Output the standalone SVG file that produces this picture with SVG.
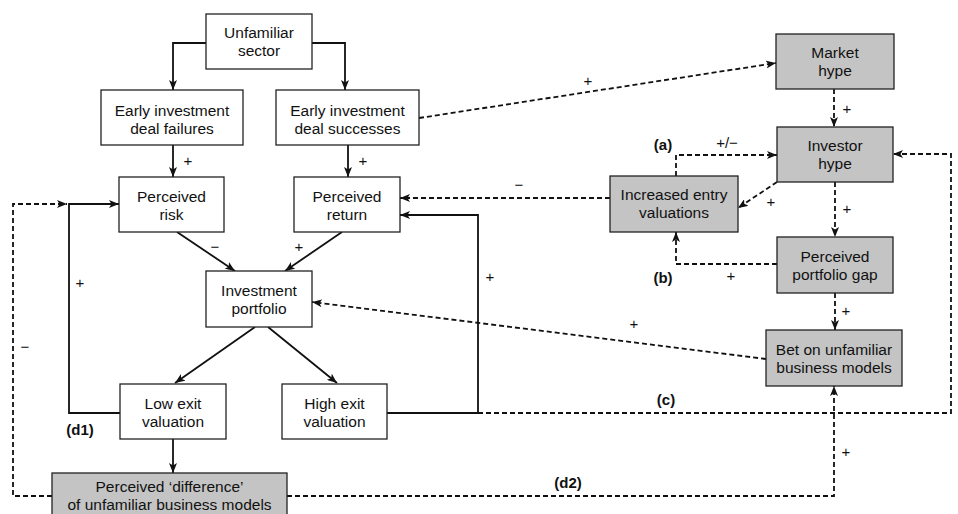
<svg xmlns="http://www.w3.org/2000/svg" width="958" height="514" viewBox="0 0 958 514">
<defs>
<marker id="ah" viewBox="0 0 10 8" markerWidth="10" markerHeight="8" refX="10" refY="4" orient="auto" markerUnits="userSpaceOnUse">
<path d="M0,0 L10,4 L0,8 L2.5,4 z" fill="#111"/>
</marker>
<style>
.bx{fill:#fff;stroke:#222;stroke-width:1.3}
.gb{fill:#c4c4c4;stroke:#222;stroke-width:1.3}
.t{font-family:"Liberation Sans",Arial,sans-serif;font-size:15.5px;fill:#111;text-anchor:middle}
.l{font-family:"Liberation Sans",Arial,sans-serif;font-size:15px;fill:#111;text-anchor:middle}
.b{font-family:"Liberation Sans",Arial,sans-serif;font-size:15px;font-weight:bold;fill:#111;text-anchor:middle}
.s{fill:none;stroke:#111;stroke-width:1.8}
.d{fill:none;stroke:#111;stroke-width:1.8;stroke-dasharray:5,3}
.a{marker-end:url(#ah)}
</style>
</defs>
<rect width="958" height="514" fill="#fff"/>
<g id="connectors">
<path class="s a" d="M206,43 H173 V90"/>
<path class="s a" d="M312,43 H345 V90"/>
<path class="s a" d="M173,145 V177"/>
<path class="s a" d="M348,145 V177"/>
<path class="s a" d="M177,232 L235,271"/>
<path class="s a" d="M342,232 L285,271"/>
<path class="s a" d="M255,327 L175,383"/>
<path class="s a" d="M268,327 L337,383"/>
<path class="s a" d="M120,413 H69 V204 H119"/>
<path class="s a" d="M387,413 H478 V215 H400"/>
<path class="s a" d="M173,439 V473"/>
<path class="d a" d="M52,496 H13 V204 H67"/>
<path class="d a" d="M287,496 H834 V386"/>
<path class="d a" d="M478,413 H951 V154 H893"/>
<path class="d a" d="M419,118 L776,63"/>
<path class="d a" d="M834,89 V127"/>
<path class="d a" d="M777,182 L738,208"/>
<path class="d a" d="M676,176 V155 H777"/>
<path class="d a" d="M610,198 H400"/>
<path class="d a" d="M835,182 V237"/>
<path class="d a" d="M777,264 H676 V232"/>
<path class="d a" d="M835,293 V330"/>
<path class="d a" d="M766,359 L312,302"/>
</g>
<g id="labels">
<text class="l" x="188" y="166">+</text>
<text class="l" x="363" y="166">+</text>
<text class="l" x="215" y="252">−</text>
<text class="l" x="299" y="252">+</text>
<text class="l" x="80" y="288">+</text>
<text class="b" x="80" y="435">(d1)</text>
<text class="l" x="490" y="282">+</text>
<text class="l" x="25" y="352">−</text>
<text class="l" x="846" y="457">+</text>
<text class="b" x="568" y="488">(d2)</text>
<text class="b" x="666" y="405">(c)</text>
<text class="l" x="588" y="86">+</text>
<text class="l" x="847" y="114">+</text>
<text class="l" x="771" y="207">+</text>
<text class="b" x="663" y="150">(a)</text>
<text class="l" x="727" y="148">+/−</text>
<text class="l" x="519" y="190">−</text>
<text class="l" x="847" y="214">+</text>
<text class="b" x="663" y="283">(b)</text>
<text class="l" x="731" y="281">+</text>
<text class="l" x="846" y="316">+</text>
<text class="l" x="634" y="329">+</text>
</g>
<g id="unfamiliar-sector"><rect class="bx" x="206" y="14" width="106" height="55"/><text class="t" x="259" y="38">Unfamiliar</text><text class="t" x="259" y="56">sector</text></g>
<g id="deal-failures"><rect class="bx" x="101" y="90" width="142" height="55"/><text class="t" x="172" y="116">Early investment</text><text class="t" x="172" y="134">deal failures</text></g>
<g id="deal-successes"><rect class="bx" x="276" y="90" width="143" height="55"/><text class="t" x="347.5" y="116">Early investment</text><text class="t" x="347.5" y="134">deal successes</text></g>
<g id="perceived-risk"><rect class="bx" x="119" y="177" width="105" height="55"/><text class="t" x="171.5" y="202">Perceived</text><text class="t" x="171.5" y="220">risk</text></g>
<g id="perceived-return"><rect class="bx" x="294" y="177" width="106" height="55"/><text class="t" x="347" y="202">Perceived</text><text class="t" x="347" y="220">return</text></g>
<g id="investment-portfolio"><rect class="bx" x="206" y="271" width="106" height="56"/><text class="t" x="259" y="296">Investment</text><text class="t" x="259" y="314">portfolio</text></g>
<g id="low-exit"><rect class="bx" x="120" y="384" width="106" height="55"/><text class="t" x="173" y="409">Low exit</text><text class="t" x="173" y="427">valuation</text></g>
<g id="high-exit"><rect class="bx" x="282" y="384" width="105" height="55"/><text class="t" x="334.5" y="409">High exit</text><text class="t" x="334.5" y="427">valuation</text></g>
<g id="perceived-difference"><rect class="gb" x="52" y="473" width="235" height="50"/><text class="t" x="169.5" y="492">Perceived ‘difference’</text><text class="t" x="169.5" y="510">of unfamiliar business models</text></g>
<g id="market-hype"><rect class="gb" x="776" y="34" width="118" height="55"/><text class="t" x="835" y="58">Market</text><text class="t" x="835" y="76">hype</text></g>
<g id="investor-hype"><rect class="gb" x="777" y="127" width="116" height="55"/><text class="t" x="835" y="151">Investor</text><text class="t" x="835" y="169">hype</text></g>
<g id="increased-entry"><rect class="gb" x="610" y="176" width="128" height="56"/><text class="t" x="674" y="200">Increased entry</text><text class="t" x="674" y="218">valuations</text></g>
<g id="portfolio-gap"><rect class="gb" x="777" y="237" width="116" height="56"/><text class="t" x="835" y="262">Perceived</text><text class="t" x="835" y="280">portfolio gap</text></g>
<g id="bet-unfamiliar"><rect class="gb" x="766" y="330" width="136" height="56"/><text class="t" x="834" y="355">Bet on unfamiliar</text><text class="t" x="834" y="373">business models</text></g>
</svg>
